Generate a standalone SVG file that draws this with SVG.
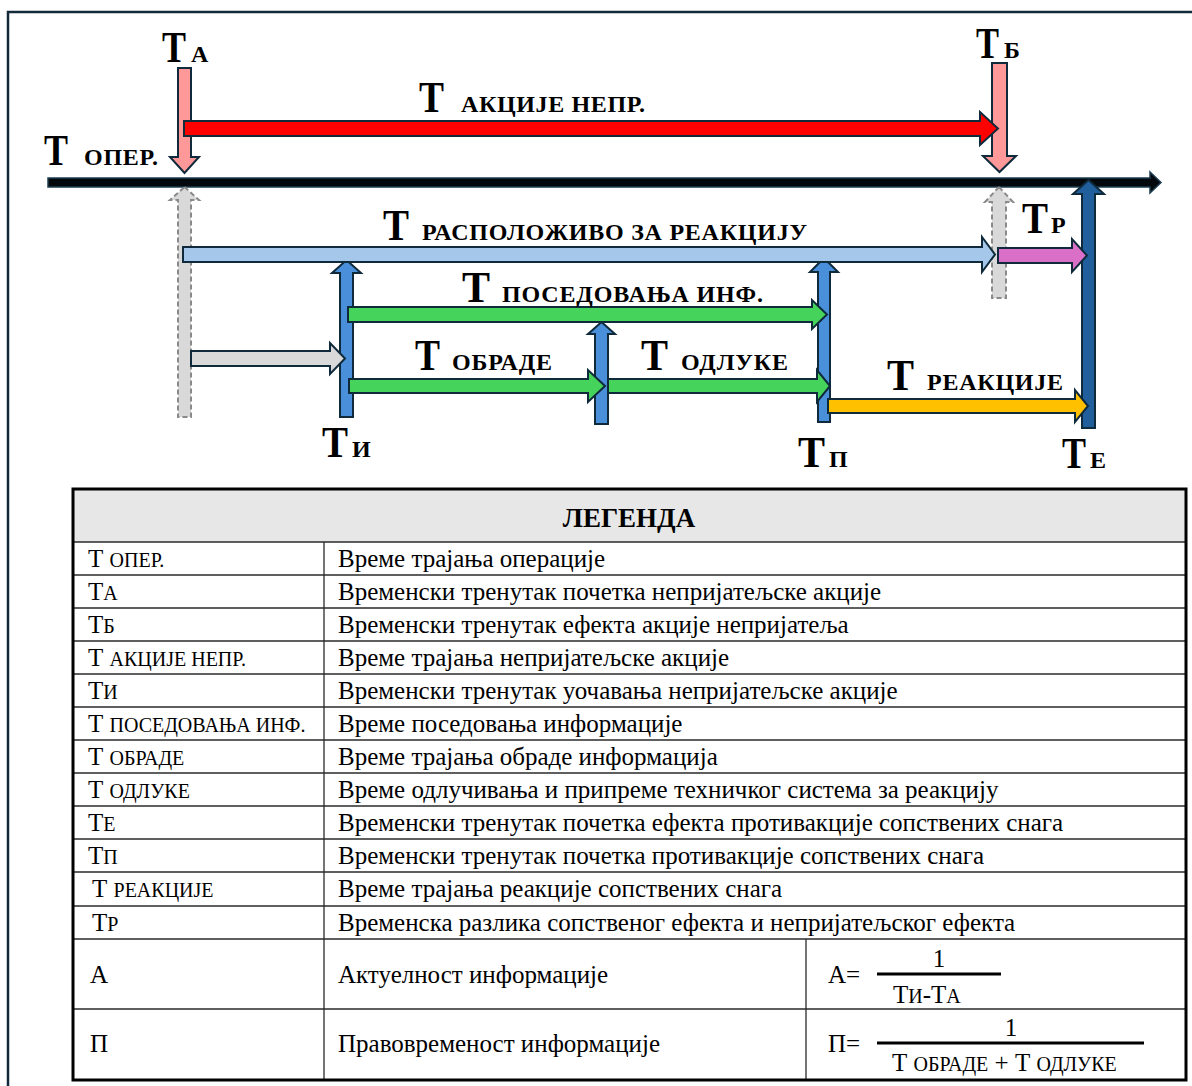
<svg xmlns="http://www.w3.org/2000/svg" width="1192" height="1086" viewBox="0 0 1192 1086">
  <style>
    .out { stroke: #0e2a3b; stroke-width: 2; stroke-linejoin: miter; }
    .pink { fill: #ff9999; }
    .red { fill: #ff0000; }
    .lblue { fill: #a5c8ea; }
    .green { fill: #46d35b; }
    .mblue { fill: #4a8fd9; }
    .dblue { fill: #205e9c; }
    .orange { fill: #ffc000; }
    .mag { fill: #da6fc8; }
    .gray { fill: #d9d9d9; }
    .dash { fill: #d9d9d9; stroke: #8a8a8a; stroke-width: 2; stroke-dasharray: 5 3; }
    .big { font-family: "Liberation Serif", "Times New Roman", serif; font-weight: bold; font-size: 44px; fill: #000; }
    .sc { font-family: "Liberation Serif", "Times New Roman", serif; font-weight: bold; font-size: 24px; fill: #000; }
    .tx { font-family: "Liberation Serif", "Times New Roman", serif; font-size: 25px; fill: #000; }
    .ts { font-family: "Liberation Serif", "Times New Roman", serif; font-size: 20px; fill: #000; }
    .hd { font-family: "Liberation Serif", "Times New Roman", serif; font-weight: bold; font-size: 27px; fill: #000; }
    .grid { stroke: #2a2a2a; stroke-width: 1.3; }
  </style>

  <!-- outer frame (continues past the right and bottom edges) -->
  <rect x="8" y="12" width="1200" height="1100" fill="none" stroke="#12293a" stroke-width="2.5"/>

  <!-- time axis -->
  <g id="axis">
    <polygon points="48,178 1150,178 1150,172 1161,182.5 1150,193 1150,187 48,187" fill="#03080c" stroke="#1d3d50" stroke-width="1.5"/>
    <text class="big" x="44" y="165" textLength="24" lengthAdjust="spacingAndGlyphs">Т</text>
    <text class="sc" x="84" y="165" textLength="74">ОПЕР.</text>
  </g>

  <!-- time points -->
  <g id="tA">
    <polygon class="dash" points="184.5,187 199,200 191,200 191,417 178,417 178,200 170,200"/>
    <polygon class="pink out" points="178,68 191,68 191,157 199,157 184.5,173 170,157 178,157"/>
    <text class="big" x="162" y="62" textLength="24" lengthAdjust="spacingAndGlyphs">Т</text>
    <text class="sc" x="191" y="62">А</text>
  </g>
  <g id="tB">
    <polygon class="dash" points="999,187 1013,202 1006,202 1006,298 992,298 992,202 985,202"/>
    <polygon class="pink out" points="992,63 1007,63 1007,156 1016,156 999.5,172 983,156 992,156"/>
    <text class="big" x="976" y="58" textLength="23" lengthAdjust="spacingAndGlyphs">Т</text>
    <text class="sc" x="1004" y="58">Б</text>
  </g>
  <g id="tE">
    <polygon class="dblue out" points="1088.5,180 1104,194 1095,194 1095,428 1082,428 1082,194 1073,194"/>
    <text class="big" x="1062" y="468" textLength="24" lengthAdjust="spacingAndGlyphs">Т</text>
    <text class="sc" x="1090" y="468">Е</text>
  </g>
  <g id="tI">
    <polygon class="mblue out" points="346.5,260 361,273 353,273 353,417 340,417 340,273 332,273"/>
    <text class="big" x="322" y="457" textLength="26" lengthAdjust="spacingAndGlyphs">Т</text>
    <text class="sc" x="352" y="457">И</text>
  </g>
  <g id="tM">
    <polygon class="mblue out" points="601.5,322 615,334 608,334 608,424 595,424 595,334 588,334"/>
  </g>
  <g id="tP">
    <polygon class="mblue out" points="824,258 838,272 830,272 830,422 818,422 818,272 810,272"/>
    <text class="big" x="798" y="467" textLength="27" lengthAdjust="spacingAndGlyphs">Т</text>
    <text class="sc" x="829" y="467">П</text>
  </g>

  <!-- interval arrows -->
  <g id="connectors">
    <polygon class="red out" points="184,121 980,121 980,112 998,128.5 980,145 980,136 184,136"/>
    <polygon class="lblue out" points="183,247 982,247 982,237 995,254.5 982,272 982,262 183,262"/>
    <polygon class="mag out" points="998,248 1072,248 1072,239 1087,255.5 1072,272 1072,263 998,263"/>
    <polygon class="gray out" points="191,351 330,351 330,343 345,358.5 330,374 330,366 191,366"/>
    <polygon class="green out" points="348,307 812,307 812,300 827,314.5 812,329 812,322 348,322"/>
    <polygon class="green out" points="349,379 588,379 588,370 605,386 588,402 588,393 349,393"/>
    <polygon class="green out" points="608,379 817,379 817,370 830,386 817,402 817,393 608,393"/>
    <polygon class="orange out" points="828,399 1075,399 1075,390 1088,406 1075,422 1075,413 828,413"/>
  </g>

  <!-- interval labels -->
  <g id="lbl-akcije">
    <text class="big" x="419" y="112" textLength="25" lengthAdjust="spacingAndGlyphs">Т</text>
    <text class="sc" x="461" y="112" textLength="184">АКЦИЈЕ НЕПР.</text>
  </g>
  <g id="lbl-raspolozivo">
    <text class="big" x="383" y="240" textLength="26" lengthAdjust="spacingAndGlyphs">Т</text>
    <text class="sc" x="422" y="240" textLength="385">РАСПОЛОЖИВО ЗА РЕАКЦИЈУ</text>
  </g>
  <g id="lbl-r">
    <text class="big" x="1022" y="233" textLength="26" lengthAdjust="spacingAndGlyphs">Т</text>
    <text class="sc" x="1051" y="233">Р</text>
  </g>
  <g id="lbl-posedovanja">
    <text class="big" x="462" y="302" textLength="28" lengthAdjust="spacingAndGlyphs">Т</text>
    <text class="sc" x="502" y="302" textLength="261">ПОСЕДОВАЊА ИНФ.</text>
  </g>
  <g id="lbl-obrade">
    <text class="big" x="415" y="370" textLength="25" lengthAdjust="spacingAndGlyphs">Т</text>
    <text class="sc" x="452" y="370" textLength="100">ОБРАДЕ</text>
  </g>
  <g id="lbl-odluke">
    <text class="big" x="641" y="370" textLength="27" lengthAdjust="spacingAndGlyphs">Т</text>
    <text class="sc" x="681" y="370" textLength="107">ОДЛУКЕ</text>
  </g>
  <g id="lbl-reakcije">
    <text class="big" x="887" y="390" textLength="27" lengthAdjust="spacingAndGlyphs">Т</text>
    <text class="sc" x="927" y="390" textLength="136">РЕАКЦИЈЕ</text>
  </g>

  <!-- legend table -->
  <g id="legend">
    <rect x="73" y="489" width="1113" height="53" fill="#e7e7e7"/>
    <text class="hd" x="629" y="527" text-anchor="middle">ЛЕГЕНДА</text>
    <g class="grid">
      <line x1="73" y1="542" x2="1186" y2="542"/>
      <line x1="73" y1="575" x2="1186" y2="575"/>
      <line x1="73" y1="608" x2="1186" y2="608"/>
      <line x1="73" y1="641" x2="1186" y2="641"/>
      <line x1="73" y1="674" x2="1186" y2="674"/>
      <line x1="73" y1="707" x2="1186" y2="707"/>
      <line x1="73" y1="740" x2="1186" y2="740"/>
      <line x1="73" y1="773" x2="1186" y2="773"/>
      <line x1="73" y1="806" x2="1186" y2="806"/>
      <line x1="73" y1="839" x2="1186" y2="839"/>
      <line x1="73" y1="872" x2="1186" y2="872"/>
      <line x1="73" y1="906" x2="1186" y2="906"/>
      <line x1="73" y1="939" x2="1186" y2="939"/>
      <line x1="73" y1="1009" x2="1186" y2="1009"/>
      <line x1="324" y1="542" x2="324" y2="1080"/>
      <line x1="806" y1="939" x2="806" y2="1080"/>
    </g>
    <rect x="73" y="489" width="1113" height="591" fill="none" stroke="#000" stroke-width="3"/>

    <!-- symbol column -->
    <text class="tx" x="88" y="567">Т <tspan class="ts">ОПЕР.</tspan></text>
    <text class="tx" x="88" y="600">Т<tspan class="ts">А</tspan></text>
    <text class="tx" x="88" y="633">Т<tspan class="ts">Б</tspan></text>
    <text class="tx" x="88" y="666">Т <tspan class="ts">АКЦИЈЕ НЕПР.</tspan></text>
    <text class="tx" x="88" y="699">Т<tspan class="ts">И</tspan></text>
    <text class="tx" x="88" y="732">Т <tspan class="ts">ПОСЕДОВАЊА ИНФ.</tspan></text>
    <text class="tx" x="88" y="765">Т <tspan class="ts">ОБРАДЕ</tspan></text>
    <text class="tx" x="88" y="798">Т <tspan class="ts">ОДЛУКЕ</tspan></text>
    <text class="tx" x="88" y="831">Т<tspan class="ts">Е</tspan></text>
    <text class="tx" x="88" y="864">Т<tspan class="ts">П</tspan></text>
    <text class="tx" x="92" y="897">Т <tspan class="ts">РЕАКЦИЈЕ</tspan></text>
    <text class="tx" x="92" y="931">Т<tspan class="ts">Р</tspan></text>
    <text class="tx" x="90" y="983">А</text>
    <text class="tx" x="90" y="1052">П</text>

    <!-- description column -->
    <text class="tx" x="338" y="567">Време трајања операције</text>
    <text class="tx" x="338" y="600">Временски тренутак почетка непријатељске акције</text>
    <text class="tx" x="338" y="633">Временски тренутак ефекта акције непријатеља</text>
    <text class="tx" x="338" y="666">Време трајања непријатељске акције</text>
    <text class="tx" x="338" y="699">Временски тренутак уочавања непријатељске акције</text>
    <text class="tx" x="338" y="732">Време поседовања информације</text>
    <text class="tx" x="338" y="765">Време трајања обраде информација</text>
    <text class="tx" x="338" y="798">Време одлучивања и припреме техничког система за реакцију</text>
    <text class="tx" x="338" y="831">Временски тренутак почетка ефекта противакције сопствених снага</text>
    <text class="tx" x="338" y="864">Временски тренутак почетка противакције сопствених снага</text>
    <text class="tx" x="338" y="897">Време трајања реакције сопствених снага</text>
    <text class="tx" x="338" y="931">Временска разлика сопственог ефекта и непријатељског ефекта</text>
    <text class="tx" x="338" y="983">Актуелност информације</text>
    <text class="tx" x="338" y="1052">Правовременост информације</text>

    <!-- formulas -->
    <text class="tx" x="828" y="983">А=</text>
    <text class="tx" x="939" y="967" text-anchor="middle">1</text>
    <line x1="877" y1="974" x2="1001" y2="974" stroke="#000" stroke-width="3"/>
    <text class="tx" x="893" y="1003">Т<tspan class="ts">И</tspan>-Т<tspan class="ts">А</tspan></text>

    <text class="tx" x="828" y="1052">П=</text>
    <text class="tx" x="1011" y="1036" text-anchor="middle">1</text>
    <line x1="877" y1="1043" x2="1144" y2="1043" stroke="#000" stroke-width="3"/>
    <text class="tx" x="892" y="1071">Т <tspan class="ts">ОБРАДЕ</tspan> + Т <tspan class="ts">ОДЛУКЕ</tspan></text>
  </g>
</svg>
